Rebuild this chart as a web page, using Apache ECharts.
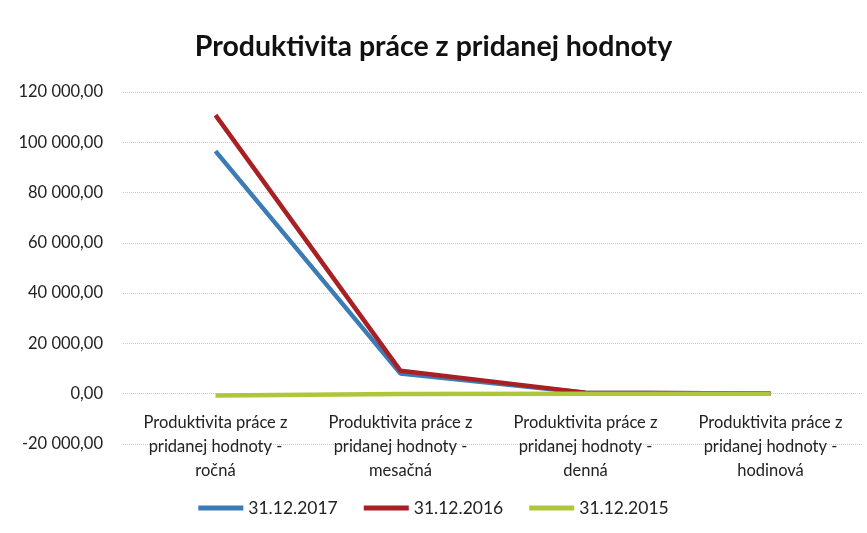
<!DOCTYPE html>
<html>
<head>
<meta charset="utf-8">
<script src="https://cdn.jsdelivr.net/npm/echarts@6/dist/echarts.min.js"></script>
<style>
  * { margin: 0; padding: 0; }
  body { background: #fff; }
</style>
</head>
<body>
<div id="chart" style="width: 867px;height: 533px;"></div>
<script>
var categories = [
  'Produktivita práce z\npridanej hodnoty -\nročná',
  'Produktivita práce z\npridanej hodnoty -\nmesačná',
  'Produktivita práce z\npridanej hodnoty -\ndenná',
  'Produktivita práce z\npridanej hodnoty -\nhodinová'
];
var seriesNames = ['31.12.2017', '31.12.2016', '31.12.2015'];
var values2017 = [96500, 8000, 380, 48];
var values2016 = [110800, 9100, 430, 55];
var values2015 = [-700, -150, 0, 0];

// 120000 -> "120 000,00"
function fmt(v) {
  var neg = v < 0;
  var s = Math.abs(v).toFixed(2).split('.');
  var int = s[0].replace(/\B(?=(\d{3})+(?!\d))/g, ' ');
  return (neg ? '-' : '') + int + ',' + s[1];
}

var font = 'Lato, "Open Sans", sans-serif';
var chart = echarts.init(document.getElementById('chart'));
chart.setOption({
  backgroundColor: '#fff',
  animation: false,
  title: {
    text: 'Produktivita práce z pridanej hodnoty',
    left: 'center',
    top: 27,
    textStyle: { fontFamily: font, fontSize: 28.5, fontWeight: 'bold', color: '#111' }
  },
  legend: {
    data: seriesNames,
    bottom: 11,
    left: 'center',
    itemWidth: 45,
    itemHeight: 5,
    itemGap: 26,
    icon: 'rect',
    textStyle: { fontFamily: font, fontSize: 17.5, color: '#222' }
  },
  grid: { left: 123, right: 4, top: 92, bottom: 89, containLabel: false },
  xAxis: {
    type: 'category',
    data: categories,
    boundaryGap: true,
    // sit the labels just under the 0 line, like the original
    offset: -50,
    axisLine: { show: false },
    axisTick: { show: false },
    axisLabel: {
      interval: 0,
      margin: 17,
      fontFamily: font,
      fontSize: 16.5,
      lineHeight: 24,
      color: '#222'
    }
  },
  yAxis: {
    type: 'value',
    min: -20000,
    max: 120000,
    interval: 20000,
    axisLine: { show: false },
    axisTick: { show: false },
    axisLabel: {
      margin: 20,
      fontFamily: font,
      fontSize: 16.5,
      color: '#222',
      formatter: fmt
    },
    splitLine: { lineStyle: { color: '#c9c9d6', type: 'dotted', width: 1 } }
  },
  series: [
    {
      name: seriesNames[0], type: 'line', data: values2017,
      symbol: 'none', color: '#3b7bb6',
      lineStyle: { width: 4.5, color: '#3b7bb6' }
    },
    {
      name: seriesNames[1], type: 'line', data: values2016,
      symbol: 'none', color: '#a81f24',
      lineStyle: { width: 4.5, color: '#a81f24' }
    },
    {
      name: seriesNames[2], type: 'line', data: values2015,
      symbol: 'none', color: '#aec63c',
      lineStyle: { width: 4.5, color: '#aec63c' }
    }
  ]
});
</script>
</body>
</html>
